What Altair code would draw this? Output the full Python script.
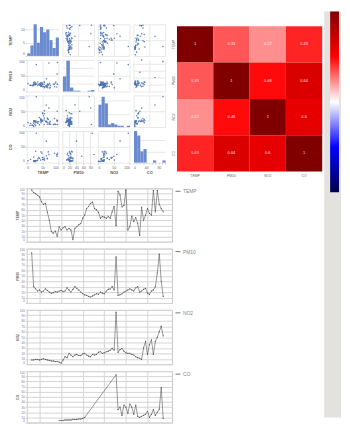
import altair as alt
import pandas as pd

# ---------------- data ----------------
names = ["TEMP", "PM10", "NO2", "CO"]
t = list(range(68))
temp = [97, 92, 90, 87, 84, 75, 70, 72, 55, 40,
        19, 16, 20, 10, 28, 22, 26, 28, 22, 25,
        22, 4, 25, 28, 32, 34, 44, 50, 62, 66,
        72, 74, 62, 60, 55, 44, 47, 46, 44, 47,
        44, 56, 66, 30, 95, 88, 65, 68, 97, 22,
        28, 48, 38, 45, 35, 12, 65, 40, 50, 62,
        53, 50, 96, 56, 96, 70, 62, 56]
pm10 = [92, 30, 26, 22, 24, 20, 22, 26, 23, 20,
        18, 19, 21, 20, 22, 23, 21, 22, 28, 24,
        20, 25, 30, 27, 24, 20, 17, 15, 14, 12,
        11, 13, 15, 17, 16, 20, 18, 17, 22, 25,
        26, 30, 24, 85, 14, 15, 17, 20, 22, 24,
        26, 24, 22, 28, 30, 20, 22, 25, 27, 18,
        16, 22, 24, 30, 55, 90, 40, 12]
no2 = [8, 8, 9, 9, 8, 9, 10, 9, 8, 7,
       6, 6, 5, 5, 4, 2, 8, 14, 12, 20,
       17, 14, 17, 18, 16, 16, 19, 20, 17, 15,
       14, 18, 17, 18, 22, 23, 20, 21, 23, 24,
       26, 29, 26, 96, 22, 27, 29, 24, 21, 20,
       20, 18, 17, 14, 12, 11, 9, 30, 42, 18,
       36, 45, 18, 42, 50, 60, 70, 52]
co = ([None] * 14
      + [4, 4, 4, 5, 5, 5, 5, 6, 6, 6, 7, 7, 8, 10]
      + [None] * 15
      + [93, 25, 30, 14, 34, 30, 18, 36, 30, 16, 34, 12, 10,
         12, 14, 16, 22, 10, 16, 25, 14, 20, 26, 68, 8])
corr_rows = [[1, 0.33, 0.22, 0.43],
             [0.33, 1, 0.48, 0.64],
             [0.22, 0.48, 1, 0.6],
             [0.43, 0.64, 0.6, 1]]

df = pd.DataFrame({"t": t, "TEMP": temp, "PM10": pm10, "NO2": no2, "CO": co})
corr_df = pd.DataFrame([{"row": names[i], "col": names[j], "v": corr_rows[i][j]}
                        for i in range(4) for j in range(4)])

BLUE = "#4c72b0"
HIST = "#6a8bd0"
CELL = 32
small_axis = dict(labelFontSize=3.5, tickSize=1.5, labelPadding=1, domain=False,
                  gridColor="#e8e8e8", titleFontSize=4, titlePadding=2, labelFlush=True,
                  tickCount=3, labelColor="#666", titleColor="#555", tickColor="#ccc")


def axis_for(show, title, extent):
    if show:
        return alt.Axis(title=title, minExtent=extent, maxExtent=extent, **small_axis)
    return alt.Axis(title=None, labels=False, ticks=False, domain=False,
                    gridColor="#e8e8e8", tickCount=3, minExtent=0, maxExtent=0)


def spacer(w, h):
    return alt.Chart(alt.Data(values=[{"a": 1}])).mark_rect(opacity=0).encode(
        x=alt.value(0), x2=alt.value(w), y=alt.value(0), y2=alt.value(h)
    ).properties(width=w, height=h, view=alt.ViewBackground(stroke="transparent"))


def sm_cell(r, c):
    yv, xv = names[r], names[c]
    left = c == 0
    bottom = r == 3
    if r == c:
        ch = alt.Chart(df).transform_filter(f"isValid(datum['{xv}'])").mark_bar(
            color=HIST, binSpacing=0).encode(
            x=alt.X(f"{xv}:Q", bin=alt.Bin(maxbins=10), axis=axis_for(bottom, xv, 6)),
            y=alt.Y("count():Q", axis=axis_for(left, yv, 12)),
        )
    else:
        ch = alt.Chart(df).transform_filter(
            f"isValid(datum['{xv}']) && isValid(datum['{yv}'])").mark_circle(
            size=2.5, color=BLUE, opacity=0.9).encode(
            x=alt.X(f"{xv}:Q", axis=axis_for(bottom, xv, 6)),
            y=alt.Y(f"{yv}:Q", axis=axis_for(left, yv, 12)),
        )
    return ch.properties(width=CELL, height=CELL,
                         view=alt.ViewBackground(stroke="transparent"))


scatter = alt.concat(*[sm_cell(r, c) for r in range(4) for c in range(4)],
                     columns=4, spacing=4, bounds="flush")
scatter_col = alt.vconcat(spacer(20, 7), scatter, spacing=4)

cscale = alt.Scale(domain=[-1, -0.5, 0, 0.5, 1], interpolate="rgb",
                   range=["#00004c", "#0000ff", "#ffffff", "#ff0000", "#800000"])

heat_base = alt.Chart(corr_df).encode(
    x=alt.X("col:N", sort=names, scale=alt.Scale(paddingInner=0, paddingOuter=0),
            axis=alt.Axis(title=None, labelFontSize=3.5, labelAngle=0, ticks=False,
                          domain=False, labelPadding=2, labelColor="#666")),
    y=alt.Y("row:N", sort=names, scale=alt.Scale(paddingInner=0, paddingOuter=0),
            axis=alt.Axis(title=None, labelFontSize=3.5, labelAngle=-90, ticks=False,
                          domain=False, labelPadding=2, labelAlign="center",
                          labelBaseline="bottom", labelColor="#666")),
)
heat = alt.layer(
    heat_base.mark_rect().encode(color=alt.Color("v:Q", scale=cscale, legend=None)),
    heat_base.mark_text(fontSize=4, color="white", opacity=0.85).encode(
        text=alt.Text("v:Q", format=".2~f")),
).properties(width=147, height=147,
             view=alt.ViewBackground(stroke="transparent"))
heat_col = alt.vconcat(spacer(20, 9), heat, spacing=4).resolve_scale(color="independent")

top_row = alt.hconcat(scatter_col, heat_col, spacing=4).resolve_scale(color="independent")


def line_chart(var, h):
    return alt.Chart(df).transform_filter(f"isValid(datum['{var}'])").transform_calculate(
        series=f"'{var}'").mark_line(
        strokeWidth=0.6, point=alt.OverlayMarkDef(size=1.5, filled=True)).encode(
        x=alt.X("t:Q", scale=alt.Scale(domain=[-2.5, 71.5], nice=False, zero=False),
                axis=alt.Axis(title=None, labels=False, ticks=False, domain=False,
                              values=[4, 15, 26, 37, 48, 59], gridColor="#d4d4d4")),
        y=alt.Y(f"{var}:Q", scale=alt.Scale(domain=[0, 100], nice=False),
                axis=alt.Axis(title=var, tickCount=8, labelFontSize=3, titleFontSize=3.5,
                              titlePadding=1, labelPadding=1, tickSize=1.5, domain=False,
                              minExtent=6, maxExtent=6, gridColor="#d4d4d4",
                              labelColor="#777", titleColor="#666", tickColor="#ccc",
                              labelFlush=True)),
        color=alt.Color("series:N", scale=alt.Scale(range=["#555555"]),
                        legend=alt.Legend(title=None, orient="right", offset=3,
                                          symbolType="stroke", symbolSize=25,
                                          symbolStrokeWidth=0.8, labelFontSize=5,
                                          labelColor="#888", labelOffset=2)),
    ).properties(width=147, height=h, view=alt.ViewBackground(stroke="#c8c8c8"))


lines = alt.vconcat(line_chart("TEMP", 54), line_chart("PM10", 55),
                    line_chart("NO2", 55), line_chart("CO", 52),
                    spacing=5).resolve_scale(color="independent")

left = alt.vconcat(top_row, lines, spacing=10).resolve_scale(color="independent")

GW, GH = 17, 411
bg = alt.Chart(alt.Data(values=[{"a": 1}])).mark_rect(color="#e4e2df").encode(
    x=alt.value(0), x2=alt.value(GW), y=alt.value(0), y2=alt.value(GH))
cb = alt.Chart(corr_df).mark_point(opacity=0).encode(
    color=alt.Color("v:Q", scale=cscale,
                    legend=alt.Legend(orient="none", legendX=6, legendY=0,
                                      direction="vertical", title=None,
                                      gradientLength=183, gradientThickness=9,
                                      labelExpr="''", labelFontSize=1,
                                      gradientStrokeWidth=0)))
gray = alt.layer(bg, cb).properties(width=GW, height=GH,
                                    view=alt.ViewBackground(stroke="transparent"))

chart = alt.hconcat(left, gray, spacing=0).resolve_scale(color="independent").properties(
    padding={"left": 0, "top": 0, "right": 0, "bottom": 0})

chart.save("out.html", embed_options={"renderer": "svg", "actions": False})
